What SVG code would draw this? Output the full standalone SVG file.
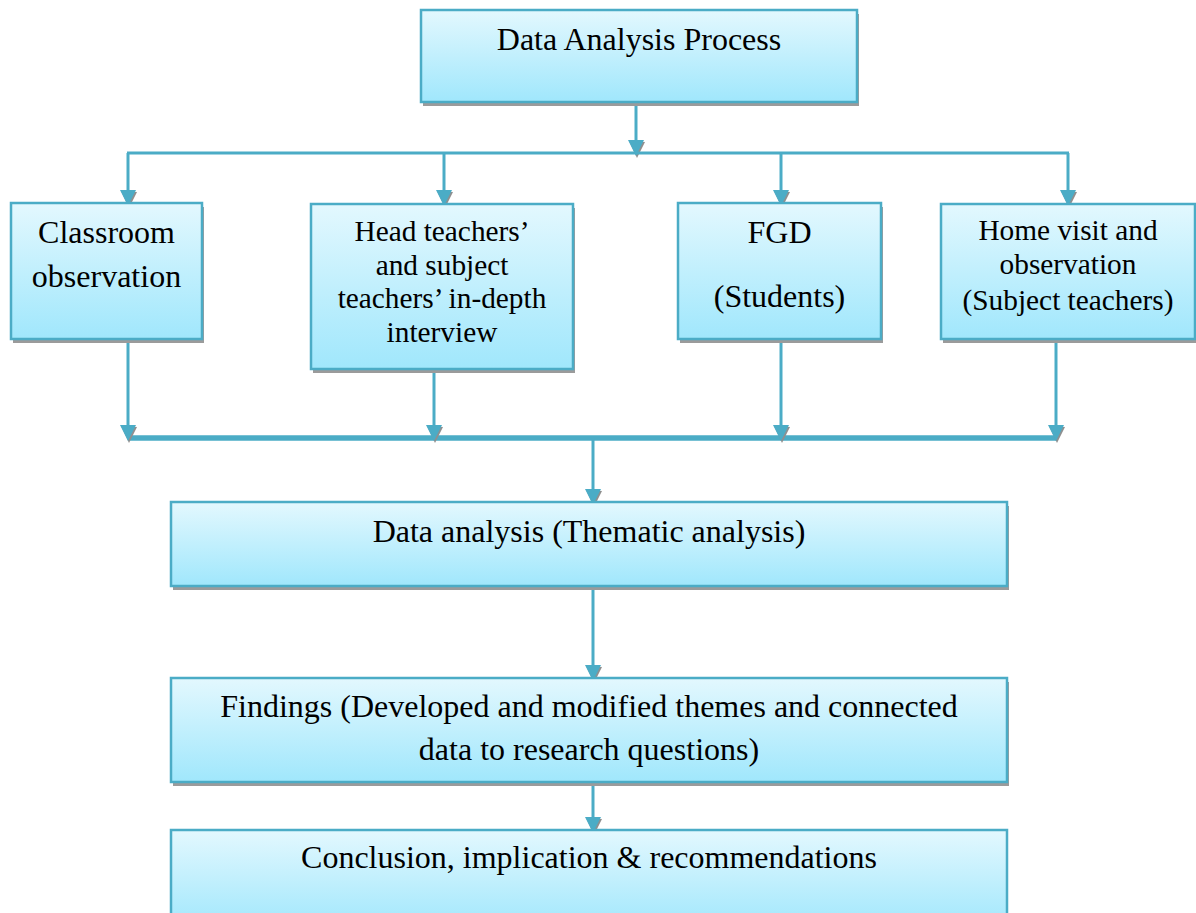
<svg xmlns="http://www.w3.org/2000/svg" xmlns:xlink="http://www.w3.org/1999/xlink" width="1196" height="913" viewBox="0 0 1196 913">
<style>
.box{fill:url(#g);stroke:#4BACC6;stroke-width:2.5}
.sh{fill:#9b9b9b}
.t{font-family:"Liberation Serif","Times New Roman",serif;font-size:32px;fill:#000;text-anchor:middle}
.s{font-size:29.33px}
.ln{stroke:#4BACC6;stroke-width:3;fill:none}
.bus{stroke:#4BACC6;stroke-width:5.5;fill:none}
</style>
<defs>
<linearGradient id="g" x1="0" y1="0" x2="0" y2="1">
<stop offset="0" stop-color="#E3F8FE"/>
<stop offset="1" stop-color="#A0E7FC"/>
</linearGradient>
<g id="ah">
<path d="M-7,-15 L1,2 L9,-14 Z" fill="#8f8f8f"/>
<path d="M-8,-16 L0,0 L8,-16 Z" fill="#4BACC6"/>
</g>
</defs>

<g id="connectors">
<line class="ln" x1="636" y1="102" x2="636" y2="145"/>
<use xlink:href="#ah" href="#ah" x="636" y="156"/>
<line class="ln" x1="127" y1="153" x2="1069" y2="153"/>
<line class="ln" x1="128" y1="153" x2="128" y2="195"/>
<use xlink:href="#ah" href="#ah" x="128" y="206"/>
<line class="ln" x1="444" y1="153" x2="444" y2="195"/>
<use xlink:href="#ah" href="#ah" x="444" y="206"/>
<line class="ln" x1="781" y1="153" x2="781" y2="195"/>
<use xlink:href="#ah" href="#ah" x="781" y="206"/>
<line class="ln" x1="1068" y1="153" x2="1068" y2="195"/>
<use xlink:href="#ah" href="#ah" x="1068" y="206"/>
<line class="bus" x1="128" y1="438" x2="1058" y2="438"/>
<line class="ln" x1="128" y1="339" x2="128" y2="430"/>
<use xlink:href="#ah" href="#ah" x="128" y="441"/>
<line class="ln" x1="434" y1="357" x2="434" y2="430"/>
<use xlink:href="#ah" href="#ah" x="434" y="441"/>
<line class="ln" x1="781" y1="339" x2="781" y2="430"/>
<use xlink:href="#ah" href="#ah" x="781" y="441"/>
<line class="ln" x1="1056" y1="339" x2="1056" y2="430"/>
<use xlink:href="#ah" href="#ah" x="1056" y="441"/>
<line class="ln" x1="593" y1="438" x2="593" y2="494"/>
<use xlink:href="#ah" href="#ah" x="593" y="505"/>
<line class="ln" x1="593" y1="586" x2="593" y2="670"/>
<use xlink:href="#ah" href="#ah" x="593" y="681"/>
<line class="ln" x1="593" y1="782" x2="593" y2="822"/>
<use xlink:href="#ah" href="#ah" x="593" y="833"/>
</g>

<g id="n-process">
<rect class="sh" x="423" y="14" width="436" height="92"/>
<rect class="box" x="421" y="10" width="436" height="92"/>
<text class="t" x="639" y="50">Data Analysis Process</text>
</g>

<g id="n-classroom">
<rect class="sh" x="13" y="207" width="191" height="136"/>
<rect class="box" x="11" y="203" width="191" height="136"/>
<text class="t" x="106.5" y="243">Classroom</text>
<text class="t" x="106.5" y="287">observation</text>
</g>

<g id="n-interview">
<rect class="sh" x="313" y="208" width="262" height="165"/>
<rect class="box" x="311" y="204" width="262" height="165"/>
<text class="t s" x="442" y="241">Head teachers’</text>
<text class="t s" x="442" y="275">and subject</text>
<text class="t s" x="442" y="308">teachers’ in-depth</text>
<text class="t s" x="442" y="342">interview</text>
</g>

<g id="n-fgd">
<rect class="sh" x="680" y="207" width="203" height="136"/>
<rect class="box" x="678" y="203" width="203" height="136"/>
<text class="t" x="779.5" y="243">FGD</text>
<text class="t" x="779.5" y="307">(Students)</text>
</g>

<g id="n-home">
<rect class="sh" x="943" y="208" width="254" height="135"/>
<rect class="box" x="941" y="204" width="254" height="135"/>
<text class="t s" x="1068" y="240">Home visit and</text>
<text class="t s" x="1068" y="274">observation</text>
<text class="t s" x="1068" y="310">(Subject teachers)</text>
</g>

<g id="n-analysis">
<rect class="sh" x="173" y="506" width="836" height="84"/>
<rect class="box" x="171" y="502" width="836" height="84"/>
<text class="t" x="589" y="542">Data analysis (Thematic analysis)</text>
</g>

<g id="n-findings">
<rect class="sh" x="173" y="682" width="836" height="104"/>
<rect class="box" x="171" y="678" width="836" height="104"/>
<text class="t" x="589" y="717">Findings (Developed and modified themes and connected</text>
<text class="t" x="589" y="760">data to research questions)</text>
</g>

<g id="n-conclusion">
<rect class="box" x="171" y="830" width="836" height="100"/>
<text class="t" x="589" y="868">Conclusion, implication &amp; recommendations</text>
</g>
</svg>
